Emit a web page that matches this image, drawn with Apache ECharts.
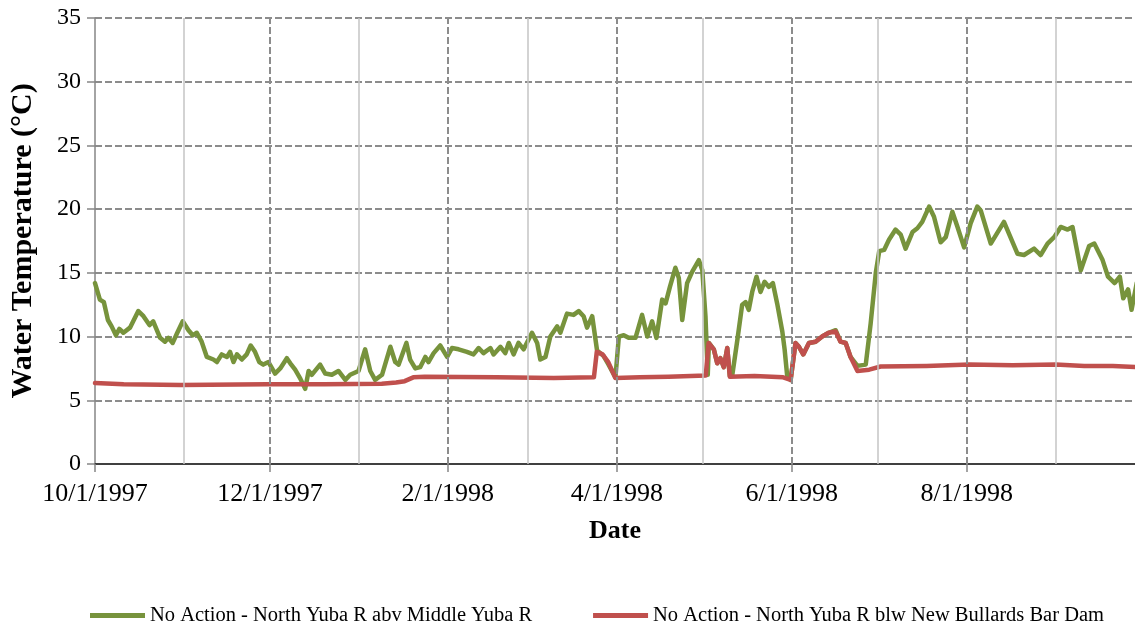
<!DOCTYPE html>
<html>
<head>
<meta charset="utf-8">
<script src="https://cdn.jsdelivr.net/npm/echarts/dist/echarts.min.js"></script>
<style>
  html, body { margin: 0; padding: 0; background: #fff; }
  #chart { width: 1135px; height: 628px; }
</style>
</head>
<body>
<div id="chart"></div>
<script>
// days counted from 10/1/1997, values in °C
const greenDay = [0,1.7,3.1,4.5,5.8,7.3,8.5,9.9,12.2,15.1,16.9,19,20.3,22.7,24.4,25.6,27.1,28.7,30.6,32.6,34.1,35.5,37.2,39,41.3,42.5,44.2,46,47.1,48.3,49.5,51.2,52.9,54.3,55.8,57.3,58.7,60.5,62.8,64.6,66.9,68.1,69.8,71.6,73.3,74.5,75.6,78.5,80.3,82.6,84.9,87.3,89,91.9,94.2,96,97.7,100.1,103,104.7,105.9,108.6,109.9,111.7,113.4,115.2,116.3,118.1,120.4,122.8,124.5,126.8,129.7,132,133.8,135.5,137.9,139,141.4,143.1,144.3,146,147.7,149.5,152.4,154.2,155.3,157.1,158.8,161.2,162.3,164.6,166.9,168.7,170.4,171.6,173.4,175.1,177.3,179.1,181.5,182.7,184.4,186.1,188.5,190.8,192.6,194.3,195.8,197.8,199,200.5,202.4,203.6,204.8,206.5,208.3,210.6,211.8,212.9,213.7,214.1,215.8,217,218.1,219.3,220.5,221.4,222.2,224,225.7,226.9,228,229.2,230.7,232.1,233.5,235,236.4,237.9,239.7,240.5,241.4,242.6,244.3,245.5,247,249,251.3,253.6,255.9,258.3,260,261.8,263.5,265.9,268.8,270.5,272.3,273.5,275.2,276.9,279.2,281,282.7,285.1,286.8,288.5,290.9,292.6,294.9,296.7,299,300.8,303.1,305.4,307.7,308.9,312.4,317,321.7,324,327.5,329.8,332.2,334.5,336.8,339.2,340.9,343.8,346.7,348.5,351.4,353.3,355.6,357.4,358.6,360.3,361.5,363.3]
const greenTemp = [14.2,12.9,12.7,11.3,10.8,10.1,10.6,10.3,10.7,12.0,11.6,10.9,11.2,9.9,9.6,9.9,9.5,10.3,11.2,10.5,10.1,10.3,9.6,8.4,8.2,8.0,8.6,8.4,8.8,8.0,8.6,8.2,8.6,9.3,8.8,8.0,7.8,8.0,7.1,7.5,8.3,7.9,7.4,6.7,5.9,7.3,7.0,7.8,7.1,7.0,7.3,6.6,7.0,7.3,9.0,7.3,6.6,7.0,9.2,8.0,7.8,9.5,8.2,7.5,7.6,8.4,8.0,8.7,9.3,8.4,9.1,9.0,8.8,8.6,9.1,8.7,9.1,8.6,9.2,8.7,9.5,8.6,9.5,9.0,10.3,9.5,8.2,8.4,10.0,10.8,10.3,11.8,11.7,12.0,11.6,10.7,11.6,8.9,8.5,7.8,6.8,10.0,10.1,9.9,9.9,11.7,10.0,11.2,9.9,12.9,12.6,13.9,15.4,14.6,11.3,14.2,15.1,16.0,15.2,11.6,7.0,9.5,9.0,7.9,8.3,7.6,9.1,6.9,6.9,9.7,12.5,12.7,12.1,13.5,14.7,13.5,14.3,13.9,14.2,12.6,10.4,9.0,6.9,6.6,9.5,9.2,8.6,9.5,9.6,10.0,10.3,10.5,9.6,9.5,8.4,7.7,7.8,11.0,15.0,16.7,16.8,17.6,18.4,18.0,16.9,18.2,18.5,19.0,20.2,19.4,17.4,17.8,19.8,18.6,17.0,18.9,20.2,19.9,17.3,19.0,16.5,16.4,16.9,16.4,17.3,17.8,18.6,18.4,18.6,15.2,17.1,17.3,16.0,14.7,14.2,14.7,13.0,13.7,12.1,14.2]

const redDay = [0,10,30,60,80,100,105,108,111,115,140,160,174,175,177,179,181.5,190,200,213,214,215.8,217,218.1,219.3,220.5,221.4,230,240,242.6,244.3,245.5,247,249,251.3,253.6,255.9,258.3,260,261.8,263.5,265.9,270,274,290,305,320,335,345,355,363.3]
const redTemp = [6.35,6.25,6.2,6.25,6.25,6.3,6.4,6.5,6.8,6.85,6.8,6.75,6.8,8.8,8.6,8.0,6.75,6.8,6.85,6.95,9.5,9.0,7.9,8.3,7.6,9.1,6.85,6.9,6.8,6.6,9.5,9.2,8.6,9.5,9.6,10.0,10.3,10.4,9.6,9.5,8.4,7.3,7.4,7.65,7.7,7.8,7.75,7.8,7.7,7.7,7.6]

const labelDates = ["10/1/1997", "12/1/1997", "2/1/1998", "4/1/1998", "6/1/1998", "8/1/1998"]
const minorDates = ["11/1/1997", "1/1/1998", "3/1/1998", "5/1/1998", "7/1/1998", "9/1/1998"]

const greenName = "No Action - North Yuba R abv Middle Yuba R"
const redName = "No Action - North Yuba R blw New Bullards Bar Dam"

const font = "'Liberation Serif', 'Times New Roman', serif"
const DAY = 86400000
const parse = s => {
  const [m, d, y] = s.split("/").map(Number)
  return new Date(y, m - 1, d).getTime()
}
const start = parse("10/1/1997")
const xMax = start + 362.7 * DAY
const pairs = (days, vals) => days.map((d, i) => [start + d * DAY, vals[i]])
const labelTimes = labelDates.map(parse)
const fmt = v => {
  const d = new Date(v)
  return (d.getMonth() + 1) + "/" + d.getDate() + "/" + d.getFullYear()
}

const gridDash = { type: [7, 3], color: "#8c8c8c", width: 2 }
const vLines = labelTimes.slice(1).map(t => ({ xAxis: t, lineStyle: gridDash }))
  .concat(minorDates.map(s => ({ xAxis: parse(s), lineStyle: { type: "solid", color: "#c4c4c4", width: 1.5 } })))

let option = {
  animation: false,
  grid: { left: 95, right: 0, top: 18, bottom: 164 },
  legend: {
    left: 85,
    top: 600,
    icon: "rect",
    itemWidth: 55,
    itemHeight: 5,
    itemGap: 61,
    data: [greenName, redName],
    textStyle: { fontFamily: font, fontSize: 20.5, color: "#000" }
  },
  xAxis: [
    {
      type: "value",
      min: start,
      max: xMax,
      name: "Date",
      nameLocation: "middle",
      nameGap: 54,
      nameTextStyle: { fontFamily: font, fontSize: 26, fontWeight: "bold", color: "#000" },
      axisLine: { show: true, onZero: false, lineStyle: { color: "#868686", width: 1.5 } },
      axisTick: { show: true, customValues: labelTimes, length: 8, lineStyle: { color: "#868686", width: 1.5 } },
      axisLabel: { customValues: labelTimes, formatter: fmt, fontFamily: font, fontSize: 26, color: "#000", margin: 17 },
      splitLine: { show: false }
    },
    {
      type: "value",
      min: start,
      max: xMax,
      position: "top",
      axisLine: { show: true, lineStyle: { color: "#404040", width: 2 } },
      axisTick: { show: false },
      axisLabel: { show: false },
      splitLine: { show: false }
    }
  ],
  yAxis: {
    type: "value",
    min: 0,
    max: 35,
    interval: 5,
    name: "Water Temperature (°C)",
    nameLocation: "middle",
    nameGap: 57,
    nameTextStyle: { fontFamily: font, fontSize: 30, fontWeight: "bold", color: "#000" },
    axisLine: { show: true, lineStyle: { color: "#868686", width: 1.5 } },
    axisTick: { show: true, length: 8, lineStyle: { color: "#868686", width: 1.5 } },
    axisLabel: { fontFamily: font, fontSize: 24, color: "#000", margin: 14 },
    splitLine: { lineStyle: gridDash }
  },
  series: [
    {
      type: "line",
      data: [],
      z: 1,
      silent: true,
      markLine: { silent: true, symbol: "none", label: { show: false }, data: vLines }
    },
    {
      name: greenName,
      type: "line",
      z: 3,
      showSymbol: false,
      data: pairs(greenDay, greenTemp),
      itemStyle: { color: "#77933C" },
      lineStyle: { color: "#77933C", width: 4.5, join: "round", cap: "round" }
    },
    {
      name: redName,
      type: "line",
      z: 4,
      showSymbol: false,
      data: pairs(redDay, redTemp),
      itemStyle: { color: "#C0504D" },
      lineStyle: { color: "#C0504D", width: 4.5, join: "round", cap: "round" }
    }
  ]
}

const myChart = echarts.init(document.getElementById("chart"))
myChart.setOption(option)
window.addEventListener("resize", function () {
  myChart.resize()
})
</script>
</body>
</html>
